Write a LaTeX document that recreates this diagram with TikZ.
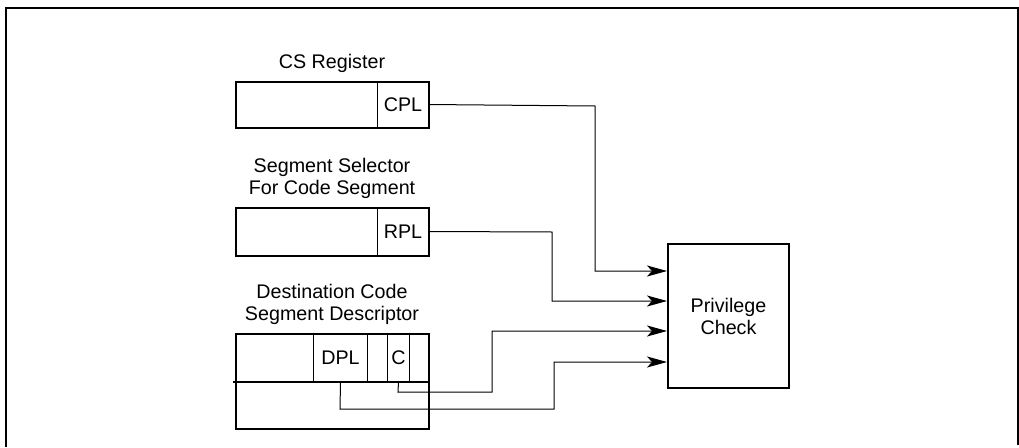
\documentclass[tikz,border=0pt]{standalone}
\usepackage{fontspec}
\setmainfont{Liberation Sans}
\usetikzlibrary{arrows.meta}
\begin{document}
\begin{tikzpicture}[x=1pt,y=-1pt,
  font=\fontsize{19.7}{22}\selectfont,
  boxframe/.style={draw,line width=2pt,rectangle,inner sep=0pt,anchor=north west},
  cell/.style={draw,line width=1pt,rectangle,inner sep=0pt,anchor=north west},
  lbl/.style={align=center,inner sep=0pt},
  conn/.style={line width=1pt},
  arr/.style={conn,-{Stealth[length=20pt,width=11pt,inset=5pt]}}]
\useasboundingbox (0,0) rectangle (1019,447);
% outer frame
\draw[line width=2pt] (6,447) -- (6,7.5) -- (1018,7.5) -- (1018,445);
% CS register
\node[lbl] (cslbl) at (332,63) {CS Register};
\node[cell,minimum width=51pt,minimum height=46pt] (cpl) at (377,81) {CPL};
\node[boxframe,minimum width=193pt,minimum height=46pt] (csbox) at (235,81) {};
% segment selector
\node[lbl] (sslbl) at (332,178.5) {Segment Selector\\For Code Segment};
\node[cell,minimum width=51pt,minimum height=48pt] (rpl) at (377,207) {RPL};
\node[boxframe,minimum width=193pt,minimum height=48pt] (ssbox) at (235,207) {};
% descriptor
\node[lbl] (dlbl) at (332,304) {Destination Code\\Segment Descriptor};
\node[cell,minimum width=54pt,minimum height=48pt] (dpl) at (313,333) {DPL};
\node[cell,minimum width=20pt,minimum height=48pt] (gap) at (367,333) {};
\node[cell,minimum width=22pt,minimum height=48pt] (ccell) at (387,333) {C};
\node[boxframe,minimum width=193pt,minimum height=95pt] (dbox) at (235,333) {};
\draw[line width=2pt] (dbox.west |- dpl.south) ++(-2,0) coordinate (mid) -- (dbox.east |- dpl.south);
% privilege check
\node[draw,line width=2pt,rectangle,minimum width=121pt,minimum height=144pt,align=center,inner sep=0pt,anchor=north west] (priv) at (667,243) {Privilege\\Check};
\coordinate (in1) at (667,271);
\coordinate (in2) at (667,301);
\coordinate (in3) at (667,331);
\coordinate (in4) at (667,362);
% connectors
\draw[arr] (cpl.east) -- (595,106) |- (in1);
\draw[arr] (rpl.east) -- (552,232) |- (in2);
\draw[arr] (ccell.south) -- (398,392) -- (492,392) |- (in3);
\draw[arr] (dpl.south) -- (340,409) -- (554,409) |- (in4);
\end{tikzpicture}
\end{document}
